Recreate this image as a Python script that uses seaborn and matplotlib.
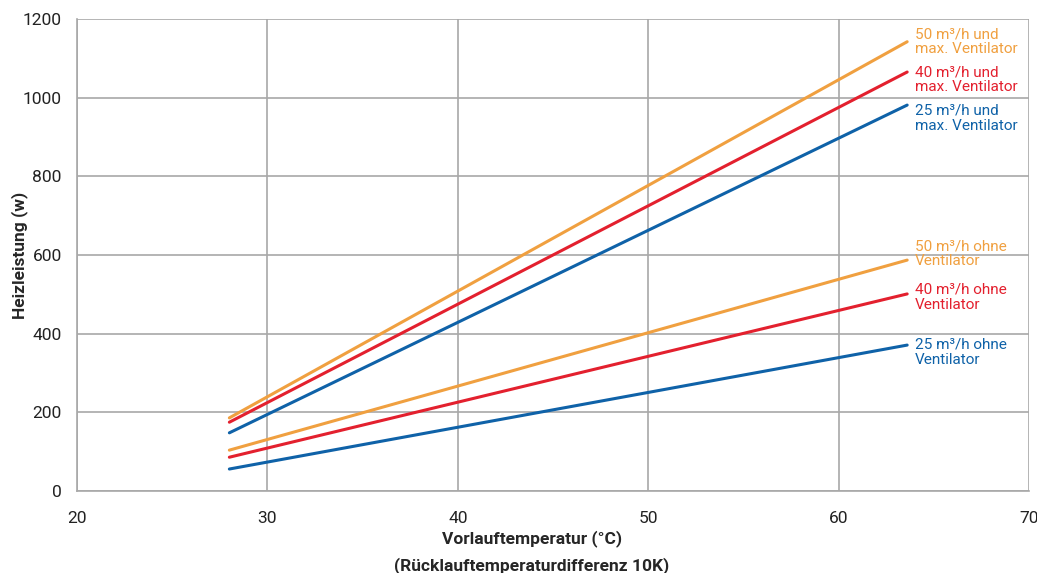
import pandas as pd
import matplotlib.pyplot as plt
import seaborn as sns

# Vorlauftemperatur (start / end of each curve)
temp = [28.0, 63.6]

# Heizleistung in W
p50_max = [186, 1142]
p40_max = [175, 1065]
p25_max = [148, 981]
p50_ohne = [104, 587]
p40_ohne = [86, 501]
p25_ohne = [56, 371]

series = ["50 m³/h und\nmax. Ventilator", "40 m³/h und\nmax. Ventilator",
          "25 m³/h und\nmax. Ventilator", "50 m³/h ohne\nVentilator",
          "40 m³/h ohne\nVentilator", "25 m³/h ohne\nVentilator"]
values = [p50_max, p40_max, p25_max, p50_ohne, p40_ohne, p25_ohne]
label_y = [1142, 1045, 948, 603, 493, 353]

orange, red, blue = "#f0a040", "#e3202e", "#0f62a8"
colors = [orange, red, blue, orange, red, blue]

rows = []
for name, vals in zip(series, values):
    for t, v in zip(temp, vals):
        rows.append({"temp": t, "leistung": v, "serie": name})
df = pd.DataFrame(rows)

sns.set_theme(style="white")
plt.rcParams['font.family'] = ['Roboto', 'DejaVu Sans']

fig = plt.figure(figsize=(10.37, 5.73), dpi=100)
ax = fig.add_axes([0.0743, 0.143, 0.918, 0.824])

sns.lineplot(data=df, x="temp", y="leistung", hue="serie", palette=colors,
             hue_order=series, linewidth=2.2, legend=False, ax=ax)

for name, ly, c in zip(series, label_y, colors):
    ax.text(64.0, ly, name, color=c, fontsize=11, va="center", ha="left",
            linespacing=1.1)

ax.set_xlim(20, 70)
ax.set_ylim(0, 1200)
ax.set_xticks([20, 30, 40, 50, 60, 70])
ax.set_yticks([0, 200, 400, 600, 800, 1000, 1200])
ax.grid(True, color="#a8a8a8", linewidth=1.2)
for s in ["top", "right"]:
    ax.spines[s].set_visible(False)
for s in ["left", "bottom"]:
    ax.spines[s].set_color("#a8a8a8")
    ax.spines[s].set_linewidth(1.2)
ax.tick_params(axis="both", labelsize=12.5, colors="#222222", length=0)
ax.tick_params(axis="x", pad=14)
ax.tick_params(axis="y", pad=11)

ax.set_xlabel("Vorlauftemperatur (°C)\n(Rücklauftemperaturdifferenz 10K)",
              fontsize=12.5, fontweight="bold", linespacing=1.75)
ax.xaxis.set_label_coords((532 - 77) / 952, -0.083, transform=ax.transAxes)
ax.xaxis.label.set_va("top")
ax.set_ylabel("Heizleistung (w)", fontsize=12.5, fontweight="bold")
ax.yaxis.set_label_coords(-0.052, (491 - 255) / 472)

fig.savefig("out.png", dpi=100)
